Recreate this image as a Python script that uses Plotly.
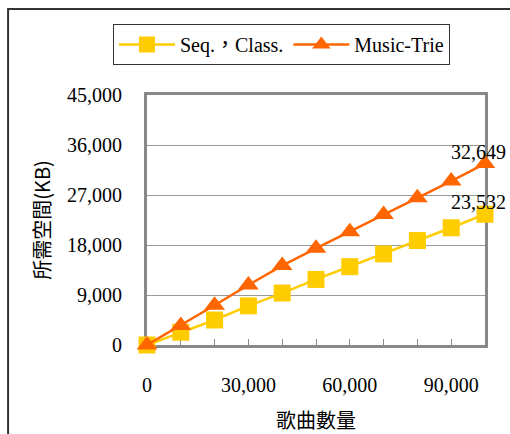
import plotly.graph_objects as go

# Number of songs indexed
songs = [0, 10000, 20000, 30000, 40000, 50000, 60000, 70000, 80000, 90000, 100000]

# Required storage (KB) for each method
seq_class = [0, 2300, 4500, 7050, 9350, 11800, 14100, 16400, 18800, 21100, 23532]
music_trie = [0, 3500, 7150, 10800, 14300, 17400, 20400, 23500, 26500, 29500, 32649]

series_names = ["Seq.\uff0cClass.", "Music-Trie"]
series_colors = ["#FFCC00", "#FF6600"]

x_title = "歌曲數量"
y_title = "所需空間(KB)"

x_ticks = [0, 30000, 60000, 90000]
y_ticks = [0, 9000, 18000, 27000, 36000, 45000]

serif = "Liberation Serif, Noto Sans CJK TC, serif"
cjk = "Noto Sans CJK TC, sans-serif"

fig = go.Figure()

fig.add_trace(go.Scatter(
    x=songs, y=seq_class, name=series_names[0], mode="lines+markers",
    line=dict(color=series_colors[0], width=2.5),
    marker=dict(symbol="square", size=17, color=series_colors[0]),
    cliponaxis=False,
))
fig.add_trace(go.Scatter(
    x=songs, y=music_trie, name=series_names[1], mode="lines+markers",
    line=dict(color=series_colors[1], width=2.5),
    marker=dict(symbol="triangle-up", size=18, color=series_colors[1]),
    cliponaxis=False,
))

# Value labels on the final points, kept inside the canvas
for series in (seq_class, music_trie):
    fig.add_annotation(
        x=songs[-1], y=series[-1], text=f"{series[-1]:,}",
        showarrow=False, xanchor="right", yanchor="middle",
        xshift=23, yshift=12,
        font=dict(family=serif, size=20, color="#000"),
    )

# Outer chart frame
fig.add_shape(
    type="rect", xref="paper", yref="paper",
    x0=-0.411, x1=1.3, y0=-0.6, y1=1.344,
    line=dict(color="#333", width=2), fillcolor="rgba(0,0,0,0)",
    layer="below",
)

fig.update_layout(
    width=510, height=434,
    font=dict(family=serif, size=20, color="#000"),
    margin=dict(l=147, r=25, t=95, b=89, autoexpand=False),
    paper_bgcolor="white", plot_bgcolor="white",
    showlegend=True,
    legend=dict(
        orientation="h", x=-0.1006, xanchor="left", y=1.284, yanchor="top",
        bordercolor="#333", borderwidth=1, bgcolor="white",
        font=dict(family=serif, size=20, color="#000"),
        itemwidth=56, tracegroupgap=0,
    ),
    xaxis=dict(
        range=[0, 100000], tickvals=x_ticks, tickformat=",d",
        ticks="inside", ticklen=6, tickcolor="#888", tickwidth=1,
        minor=dict(dtick=10000, tick0=0, ticks="inside", ticklen=6, tickcolor="#888"),
        showgrid=False, zeroline=False,
        showline=True, linecolor="#888", linewidth=3, mirror=True,
        ticklabelstandoff=20, automargin=False,
        tickfont=dict(family=serif, size=20, color="#000"),
        title=dict(text=x_title, font=dict(family=cjk, size=20, color="#000"), standoff=24),
        layer="below traces",
    ),
    yaxis=dict(
        range=[0, 45000], tickvals=y_ticks, tickformat=",d",
        ticks="", showgrid=True, gridcolor="#999", gridwidth=1, zeroline=False,
        showline=True, linecolor="#888", linewidth=3, mirror=True,
        ticklabelstandoff=18, automargin=False,
        tickfont=dict(family=serif, size=20, color="#000"),
        title=dict(text=y_title, font=dict(family=cjk, size=20, color="#000"), standoff=12),
        layer="below traces",
    ),
)

fig.write_html("out.html")
